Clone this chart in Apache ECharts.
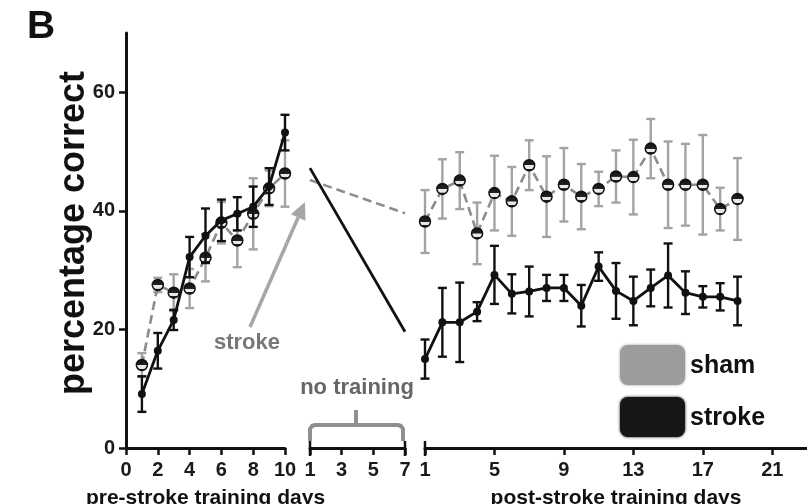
<!DOCTYPE html>
<html>
<head>
<meta charset="utf-8">
<script src="https://cdn.jsdelivr.net/npm/echarts@6/dist/echarts.min.js"></script>
<style>
  html, body { margin: 0; padding: 0; background: #fff; }
  #chart { width: 807px; height: 504px; }
</style>
</head>
<body>
<div id="chart"></div>
<script>
// Pre-stroke training (days 1-10)
const preDays = [1, 2, 3, 4, 5, 6, 7, 8, 9, 10];
const preSham = [14.0, 27.5, 26.2, 26.9, 32.1, 38.0, 35.0, 39.5, 43.8, 46.3];
const preShamErr = [2.0, 1.2, 3.1, 3.3, 4.0, 3.5, 4.5, 6.0, 3.0, 5.6];
const preStroke = [9.1, 16.4, 21.6, 32.2, 35.8, 38.4, 39.5, 40.7, 44.1, 53.2];
const preStrokeErr = [3.0, 3.0, 1.7, 3.4, 4.6, 3.5, 2.8, 3.4, 3.1, 3.0];

// No-training interval (days 1-7)
const gapDays = [1, 7];
const gapSham = [45.2, 39.6];
const gapStroke = [47.2, 19.6];

// Post-stroke training (days 1-19)
const postDays = [1, 2, 3, 4, 5, 6, 7, 8, 9, 10, 11, 12, 13, 14, 15, 16, 17, 18, 19];
const postSham = [38.2, 43.7, 45.1, 36.2, 43.0, 41.6, 47.7, 42.4, 44.4, 42.4, 43.7, 45.8, 45.7, 50.5, 44.4, 44.4, 44.4, 40.3, 42.0];
const postShamErr = [5.3, 5.0, 4.8, 5.2, 6.3, 5.8, 4.2, 6.8, 6.2, 5.5, 2.9, 4.4, 6.3, 5.0, 7.3, 6.9, 8.4, 3.6, 6.9];
const postStroke = [15.0, 21.2, 21.2, 23.0, 29.2, 26.0, 26.4, 27.0, 27.0, 24.0, 30.6, 26.5, 24.8, 27.0, 29.1, 26.2, 25.5, 25.5, 24.8];
const postStrokeErr = [3.3, 5.8, 6.7, 1.6, 4.9, 3.3, 4.2, 2.2, 2.2, 3.5, 2.4, 4.7, 4.1, 3.1, 5.4, 3.6, 1.8, 2.3, 4.1];

// Axis ticks
const yTicks = [0, 20, 40, 60];
const preTicks = [0, 2, 4, 6, 8, 10];
const gapTicks = [1, 3, 5, 7];
const postTicks = [1, 5, 9, 13, 17, 21];

const FONT = "'Liberation Sans', Arial, Helvetica, sans-serif";
const INK = '#111';
const SHAM_GRAY = '#8c8c8c';
const SHAM_BAR = '#a3a3a3';

const shamMarker = {
  type: 'linear', x: 0, y: 0, x2: 0, y2: 1,
  colorStops: [
    { offset: 0, color: '#111' },
    { offset: 0.5, color: '#222' },
    { offset: 0.52, color: '#e8e8e8' },
    { offset: 0.78, color: '#e8e8e8' },
    { offset: 0.8, color: '#222' },
    { offset: 1, color: '#111' }
  ]
};

const pair = (xs, ys) => xs.map((x, i) => [x, ys[i]]);

function errorBars(idx, xs, means, errs, color, width, z) {
  return {
    type: 'custom',
    xAxisIndex: idx,
    yAxisIndex: idx,
    silent: true,
    z: z,
    data: xs.map((x, i) => [x, means[i] - errs[i], means[i] + errs[i]]),
    encode: { x: 0, y: [1, 2] },
    renderItem(params, api) {
      const lo = api.coord([api.value(0), api.value(1)]);
      const hi = api.coord([api.value(0), api.value(2)]);
      const cap = 4.5;
      const style = { stroke: color, lineWidth: width };
      return {
        type: 'group',
        children: [
          { type: 'line', shape: { x1: lo[0], y1: lo[1], x2: hi[0], y2: hi[1] }, style },
          { type: 'line', shape: { x1: lo[0] - cap, y1: lo[1], x2: lo[0] + cap, y2: lo[1] }, style },
          { type: 'line', shape: { x1: hi[0] - cap, y1: hi[1], x2: hi[0] + cap, y2: hi[1] }, style }
        ]
      };
    }
  };
}

function shamLine(idx, data, withSymbols) {
  return {
    type: 'line', xAxisIndex: idx, yAxisIndex: idx, data: data, z: 3,
    symbol: withSymbols ? 'circle' : 'none', symbolSize: 11,
    itemStyle: { color: shamMarker, borderColor: INK, borderWidth: 1.5 },
    lineStyle: { color: SHAM_GRAY, width: 2.6, type: [9, 5] },
    animation: false
  };
}

function strokeLine(idx, data, withSymbols) {
  return {
    type: 'line', xAxisIndex: idx, yAxisIndex: idx, data: data, z: 5,
    symbol: withSymbols ? 'circle' : 'none', symbolSize: 8,
    itemStyle: { color: INK, borderWidth: 0 },
    lineStyle: { color: INK, width: 2.8 },
    animation: false
  };
}

const axisLabelStyle = { color: '#1a1a1a', fontFamily: FONT, fontWeight: 'bold', fontSize: 20 };
const axisLineStyle = { lineStyle: { color: INK, width: 3 } };
const axisTickStyle = { lineStyle: { color: INK, width: 2.5 }, length: 7 };
const nameStyle = { color: '#111', fontFamily: FONT, fontWeight: 'bold', fontSize: 21 };

function xAxisDef(idx, min, max, ticks, name) {
  return {
    type: 'value', gridIndex: idx, min: min, max: max,
    axisLine: axisLineStyle,
    axisTick: Object.assign({ customValues: ticks }, axisTickStyle),
    axisLabel: Object.assign({ customValues: ticks, margin: 12 }, axisLabelStyle),
    splitLine: { show: false },
    name: name || '', nameLocation: 'middle', nameGap: 40, nameTextStyle: nameStyle
  };
}

function yAxisDef(idx, visible) {
  return {
    type: 'value', gridIndex: idx, min: 0, max: 70, show: visible,
    axisLine: axisLineStyle,
    axisTick: Object.assign({ customValues: yTicks }, axisTickStyle),
    axisLabel: Object.assign({ customValues: yTicks, margin: 11 }, axisLabelStyle),
    splitLine: { show: false }
  };
}

const chart = echarts.init(document.getElementById('chart'), null, { renderer: 'canvas' });

// Arrow pointing at the stroke event
const tip = [305, 202], tail = [250, 327];
const dx = tip[0] - tail[0], dy = tip[1] - tail[1];
const len = Math.hypot(dx, dy);
const ux = dx / len, uy = dy / len, nx = -uy, ny = ux;
const headLen = 17, headHalf = 8;
const base = [tip[0] - headLen * ux, tip[1] - headLen * uy];

// Short end bars on the broken x-axis segments
const endBar = (x) => ({
  type: 'line', shape: { x1: x, y1: 441, x2: x, y2: 456 },
  style: { stroke: INK, lineWidth: 2.5 }
});

const gridBase = { top: 33, height: 415, outerBoundsMode: 'none', containLabel: false };

chart.setOption({
  backgroundColor: '#fff',
  animation: false,
  grid: [
    Object.assign({ left: 126, width: 159 }, gridBase),
    Object.assign({ left: 310, width: 95 }, gridBase),
    Object.assign({ left: 425, width: 382 }, gridBase)
  ],
  xAxis: [
    xAxisDef(0, 0, 10, preTicks, 'pre-stroke training days'),
    xAxisDef(1, 1, 7, gapTicks, ''),
    xAxisDef(2, 1, 23, postTicks, 'post-stroke training days')
  ],
  yAxis: [yAxisDef(0, true), yAxisDef(1, false), yAxisDef(2, false)],
  series: [
    errorBars(0, preDays, preSham, preShamErr, SHAM_BAR, 2.4, 1),
    errorBars(2, postDays, postSham, postShamErr, SHAM_BAR, 2.4, 1),
    shamLine(0, pair(preDays, preSham), true),
    shamLine(1, pair(gapDays, gapSham), false),
    shamLine(2, pair(postDays, postSham), true),
    errorBars(0, preDays, preStroke, preStrokeErr, INK, 2.4, 4),
    errorBars(2, postDays, postStroke, postStrokeErr, INK, 2.4, 4),
    strokeLine(0, pair(preDays, preStroke), true),
    strokeLine(1, pair(gapDays, gapStroke), false),
    strokeLine(2, pair(postDays, postStroke), true)
  ],
  graphic: [
    { type: 'text', left: 27, top: 8, style: { text: 'B', font: `bold 39px ${FONT}`, fill: '#111' } },
    {
      type: 'text', x: 74, y: 233, rotation: Math.PI / 2,
      style: { text: 'percentage correct', font: `bold 36px ${FONT}`, fill: '#111', textAlign: 'center', textVerticalAlign: 'middle' }
    },
    {
      type: 'text', x: 247, y: 343,
      style: { text: 'stroke', font: `bold 22px ${FONT}`, fill: '#777', textAlign: 'center', textVerticalAlign: 'middle' }
    },
    {
      type: 'line', shape: { x1: tail[0], y1: tail[1], x2: base[0], y2: base[1] },
      style: { stroke: '#a6a6a6', lineWidth: 3.5 }
    },
    {
      type: 'polygon',
      shape: { points: [tip, [base[0] + headHalf * nx, base[1] + headHalf * ny], [base[0] - headHalf * nx, base[1] - headHalf * ny]] },
      style: { fill: '#a6a6a6' }
    },
    {
      type: 'text', x: 357, y: 388,
      style: { text: 'no training', font: `bold 22px ${FONT}`, fill: '#666', textAlign: 'center', textVerticalAlign: 'middle' }
    },
    {
      type: 'polyline',
      shape: { points: [[310, 441], [310, 429], [312, 426], [315, 425], [398, 425], [401, 426], [403, 429], [403, 441]] },
      style: { stroke: '#8f8f8f', lineWidth: 4, fill: null, lineJoin: 'round' }
    },
    {
      type: 'line', shape: { x1: 356, y1: 425, x2: 356, y2: 410 },
      style: { stroke: '#8f8f8f', lineWidth: 4 }
    },
    endBar(310), endBar(405), endBar(425),
    { type: 'rect', shape: { x: 620, y: 345, width: 65, height: 40, r: 8 }, style: { fill: '#9c9c9c', shadowBlur: 3, shadowColor: '#9c9c9c' } },
    { type: 'rect', shape: { x: 620, y: 397, width: 65, height: 40, r: 8 }, style: { fill: '#161616', shadowBlur: 3, shadowColor: '#161616' } },
    { type: 'text', x: 690, y: 366, style: { text: 'sham', font: `bold 25px ${FONT}`, fill: '#111', textVerticalAlign: 'middle' } },
    { type: 'text', x: 690, y: 418, style: { text: 'stroke', font: `bold 25px ${FONT}`, fill: '#111', textVerticalAlign: 'middle' } }
  ]
});
</script>
</body>
</html>
